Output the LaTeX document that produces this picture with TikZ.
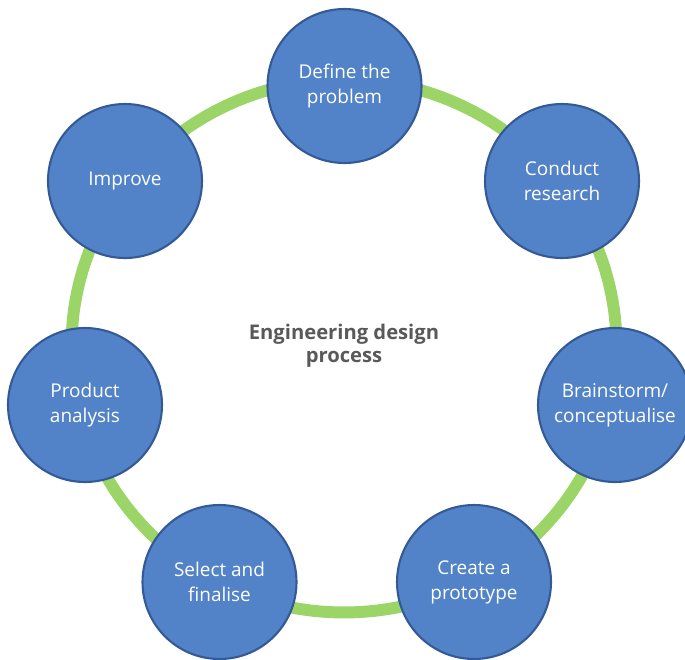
\documentclass[tikz,border=0pt]{standalone}
\usepackage{fontspec}
\setmainfont{Open Sans}
\usepackage{xcolor}
\usepackage{tikz}
\usetikzlibrary{shapes,positioning,calc}

\definecolor{stageblue}{RGB}{82,131,200}
\definecolor{stageedge}{RGB}{52,90,150}
\definecolor{ringgreen}{RGB}{155,213,103}
\definecolor{titlegray}{RGB}{89,89,89}

\begin{document}
\begin{tikzpicture}[x=0.02cm, y=-0.02cm, thick]
% Define styles for the stages, the ring and the centre label
\tikzstyle{stage} = [circle, draw=stageedge, line width=1.2pt, fill=stageblue, text=white, minimum size=3.08cm, inner sep=0pt, align=center, font=\fontsize{10.8}{14.2}\selectfont]
\tikzstyle{ring} = [draw=ringgreen, line width=6.8pt]
\tikzstyle{heading} = [text=titlegray, align=center, font=\bfseries\fontsize{11.5}{13}\selectfont]

\useasboundingbox (0,0) rectangle (685,659);

% Centre label and the ring round it
\node [heading] (title) at (344,346) {Engineering design\\process};
\path [ring] (title.center) ellipse [x radius=5.45cm, y radius=5.33cm];

% Place stages
\node [stage] (define) at (344.5,86) {Define the\\problem};
\node [stage] (research) at (562,181) {Conduct\\research};
\node [stage] (brainstorm) at (615,405) {Brainstorm/\\conceptualise};
\node [stage] (prototype) at (474,582) {Create a\\prototype};
\node [stage] (select) at (219.5,582) {Select and\\finalise};
\node [stage] (analysis) at (85,405) {Product\\analysis};
\node [stage] (improve) at (125,181) {Improve};

\end{tikzpicture}
\end{document}
